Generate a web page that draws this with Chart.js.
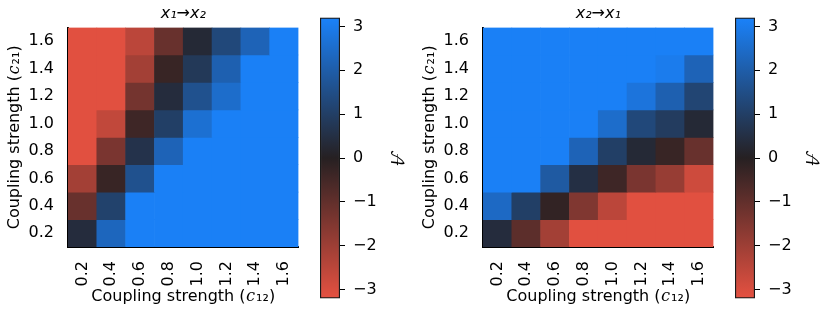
<!DOCTYPE html>
<html>
<head>
<meta charset="utf-8">
<script src="https://cdn.jsdelivr.net/npm/chart.js@4"></script>
<style>
  html, body { margin: 0; padding: 0; background: #fff; }
  body { position: relative; width: 830px; height: 316px; overflow: hidden; }
  canvas { position: absolute; top: 0; }
</style>
</head>
<body>
<canvas id="heatLeft" width="310" height="316" style="left:0px"></canvas>
<canvas id="barLeft" width="100" height="316" style="left:315px"></canvas>
<canvas id="heatRight" width="310" height="316" style="left:415px"></canvas>
<canvas id="barRight" width="100" height="316" style="left:730px"></canvas>
<script>
const xLabels = ['0.2', '0.4', '0.6', '0.8', '1.0', '1.2', '1.4', '1.6'];
const yValues = [1.6, 1.4, 1.2, 1.0, 0.8, 0.6, 0.4, 0.2];
const colorTicks = [-3, -2, -1, 0, 1, 2, 3];
const colorMin = -3.2;
const colorMax = 3.2;

// rows from top (c21 = 1.6) to bottom (c21 = 0.2), columns c12 = 0.2 .. 1.6
const leftValues = [
  [-3.14, -3.14, -2.5, -1.1, 0.3, 1.3, 2.2, 3.14],
  [-3.14, -3.14, -2.1, -0.3, 0.8, 2.1, 3.14, 3.14],
  [-3.14, -3.14, -1.3, 0.4, 1.6, 2.5, 3.14, 3.14],
  [-3.14, -2.6, -0.4, 1.0, 2.6, 3.14, 3.14, 3.14],
  [-3.14, -1.4, 0.6, 2.2, 3.14, 3.14, 3.14, 3.14],
  [-2.1, -0.3, 1.6, 3.14, 3.14, 3.14, 3.14, 3.14],
  [-1.1, 1.1, 3.14, 3.14, 3.14, 3.14, 3.14, 3.14],
  [0.4, 2.3, 3.14, 3.14, 3.14, 3.14, 3.14, 3.14],
];

const rightValues = [
  [3.14, 3.14, 3.14, 3.14, 3.14, 3.14, 3.14, 3.14],
  [3.14, 3.14, 3.14, 3.14, 3.14, 3.14, 3.0, 2.2],
  [3.14, 3.14, 3.14, 3.14, 3.14, 2.75, 2.1, 1.2],
  [3.14, 3.14, 3.14, 3.14, 2.5, 1.3, 0.9, 0.3],
  [3.14, 3.14, 3.14, 2.2, 1.0, 0.3, -0.3, -1.1],
  [3.14, 3.14, 1.9, 0.5, -0.4, -1.4, -1.9, -2.8],
  [2.4, 1.0, -0.2, -1.5, -2.5, -3.14, -3.14, -3.14],
  [0.4, -0.9, -2.1, -3.14, -3.14, -3.14, -3.14, -3.14],
];

const redEnd = [229, 81, 65];
const darkMid = [38, 32, 34];
const blueEnd = [26, 130, 250];

const fontFamily = '"DejaVu Sans", "DejaVu Math TeX Gyre", "Noto Sans", sans-serif';
Chart.defaults.font.family = fontFamily;
Chart.defaults.color = '#000';

const mix = (a, b, t) => a.map((v, i) => Math.round(v + (b[i] - v) * t));

const colorFor = (value) => {
  const t = Math.min(1, Math.max(0, (value - colorMin) / (colorMax - colorMin)));
  const rgb = t < 0.5 ? mix(redEnd, darkMid, t * 2) : mix(darkMid, blueEnd, (t - 0.5) * 2);
  return `rgb(${rgb[0]}, ${rgb[1]}, ${rgb[2]})`;
};

const makeHeatmap = (canvasId, title, values) => {
  const datasets = yValues.map((y, row) => ({
    data: xLabels.map(() => [y - 0.1, y + 0.1]),
    backgroundColor: values[row].map(colorFor),
    borderWidth: 0,
    grouped: false,
    barPercentage: 1,
    categoryPercentage: 1,
  }));

  new Chart(document.getElementById(canvasId), {
    type: 'bar',
    data: { labels: xLabels, datasets },
    options: {
      responsive: false,
      animation: false,
      layout: { padding: { left: 0, right: 5, top: 0, bottom: 0 } },
      plugins: {
        legend: { display: false },
        tooltip: { enabled: false },
        title: {
          display: true,
          text: title,
          fullSize: false,
          color: '#000',
          font: { size: 16, weight: 'normal', style: 'italic', lineHeight: 1.1 },
          padding: { top: 5, bottom: 5 },
        },
      },
      scales: {
        x: {
          type: 'category',
          offset: true,
          grid: { display: false },
          border: { display: true, color: '#000', width: 2 },
          ticks: { minRotation: 90, maxRotation: 90, padding: 6, font: { size: 16 } },
          title: {
            display: true,
            text: 'Coupling strength (𝑐₁₂)',
            font: { size: 16 },
            padding: { top: 0, bottom: 10 },
          },
          afterFit: (scale) => { scale.height = 69; },
        },
        y: {
          type: 'linear',
          min: 0.1,
          max: 1.7,
          afterBuildTicks: (scale) => { scale.ticks = yValues.map((v) => ({ value: v })); },
          grid: { display: false },
          border: { display: true, color: '#000', width: 2 },
          ticks: { padding: 6, font: { size: 16 }, callback: (v) => Number(v).toFixed(1) },
          title: {
            display: true,
            text: 'Coupling strength (𝑐₂₁)',
            font: { size: 16 },
            padding: { top: 5, bottom: 0 },
          },
          afterFit: (scale) => { scale.width = 68; },
        },
      },
    },
  });
};

const makeColorbar = (canvasId) => {
  new Chart(document.getElementById(canvasId), {
    type: 'bar',
    data: {
      labels: [''],
      datasets: [{
        data: [[colorMin, colorMax]],
        backgroundColor: (ctx) => {
          const area = ctx.chart.chartArea;
          if (!area) {
            return colorFor(0);
          }
          const gradient = ctx.chart.ctx.createLinearGradient(0, area.bottom, 0, area.top);
          gradient.addColorStop(0, colorFor(colorMin));
          gradient.addColorStop(0.5, colorFor(0));
          gradient.addColorStop(1, colorFor(colorMax));
          return gradient;
        },
        borderColor: '#1a1a1a',
        borderWidth: 1.5,
        borderSkipped: false,
        barPercentage: 1,
        categoryPercentage: 1,
      }],
    },
    options: {
      responsive: false,
      animation: false,
      layout: { padding: { left: 5, right: 0, top: 10, bottom: 11 } },
      plugins: { legend: { display: false }, tooltip: { enabled: false } },
      scales: {
        x: { display: false },
        y: {
          position: 'right',
          min: colorMin,
          max: colorMax,
          afterBuildTicks: (scale) => { scale.ticks = colorTicks.map((v) => ({ value: v })); },
          grid: { drawOnChartArea: false, drawTicks: true, tickLength: 5, color: '#000' },
          border: { display: false },
          ticks: {
            padding: 8,
            font: { size: 16 },
            callback: (v) => (v < 0 ? `−${Math.abs(v)}` : String(v)),
          },
          title: {
            display: true,
            text: '𝒜',
            font: { size: 16 },
            padding: { top: 10, bottom: 0 },
          },
          afterFit: (scale) => { scale.width = 75; },
        },
      },
    },
  });
};

makeHeatmap('heatLeft', 'x₁→x₂', leftValues);
makeColorbar('barLeft');
makeHeatmap('heatRight', 'x₂→x₁', rightValues);
makeColorbar('barRight');
</script>
</body>
</html>
